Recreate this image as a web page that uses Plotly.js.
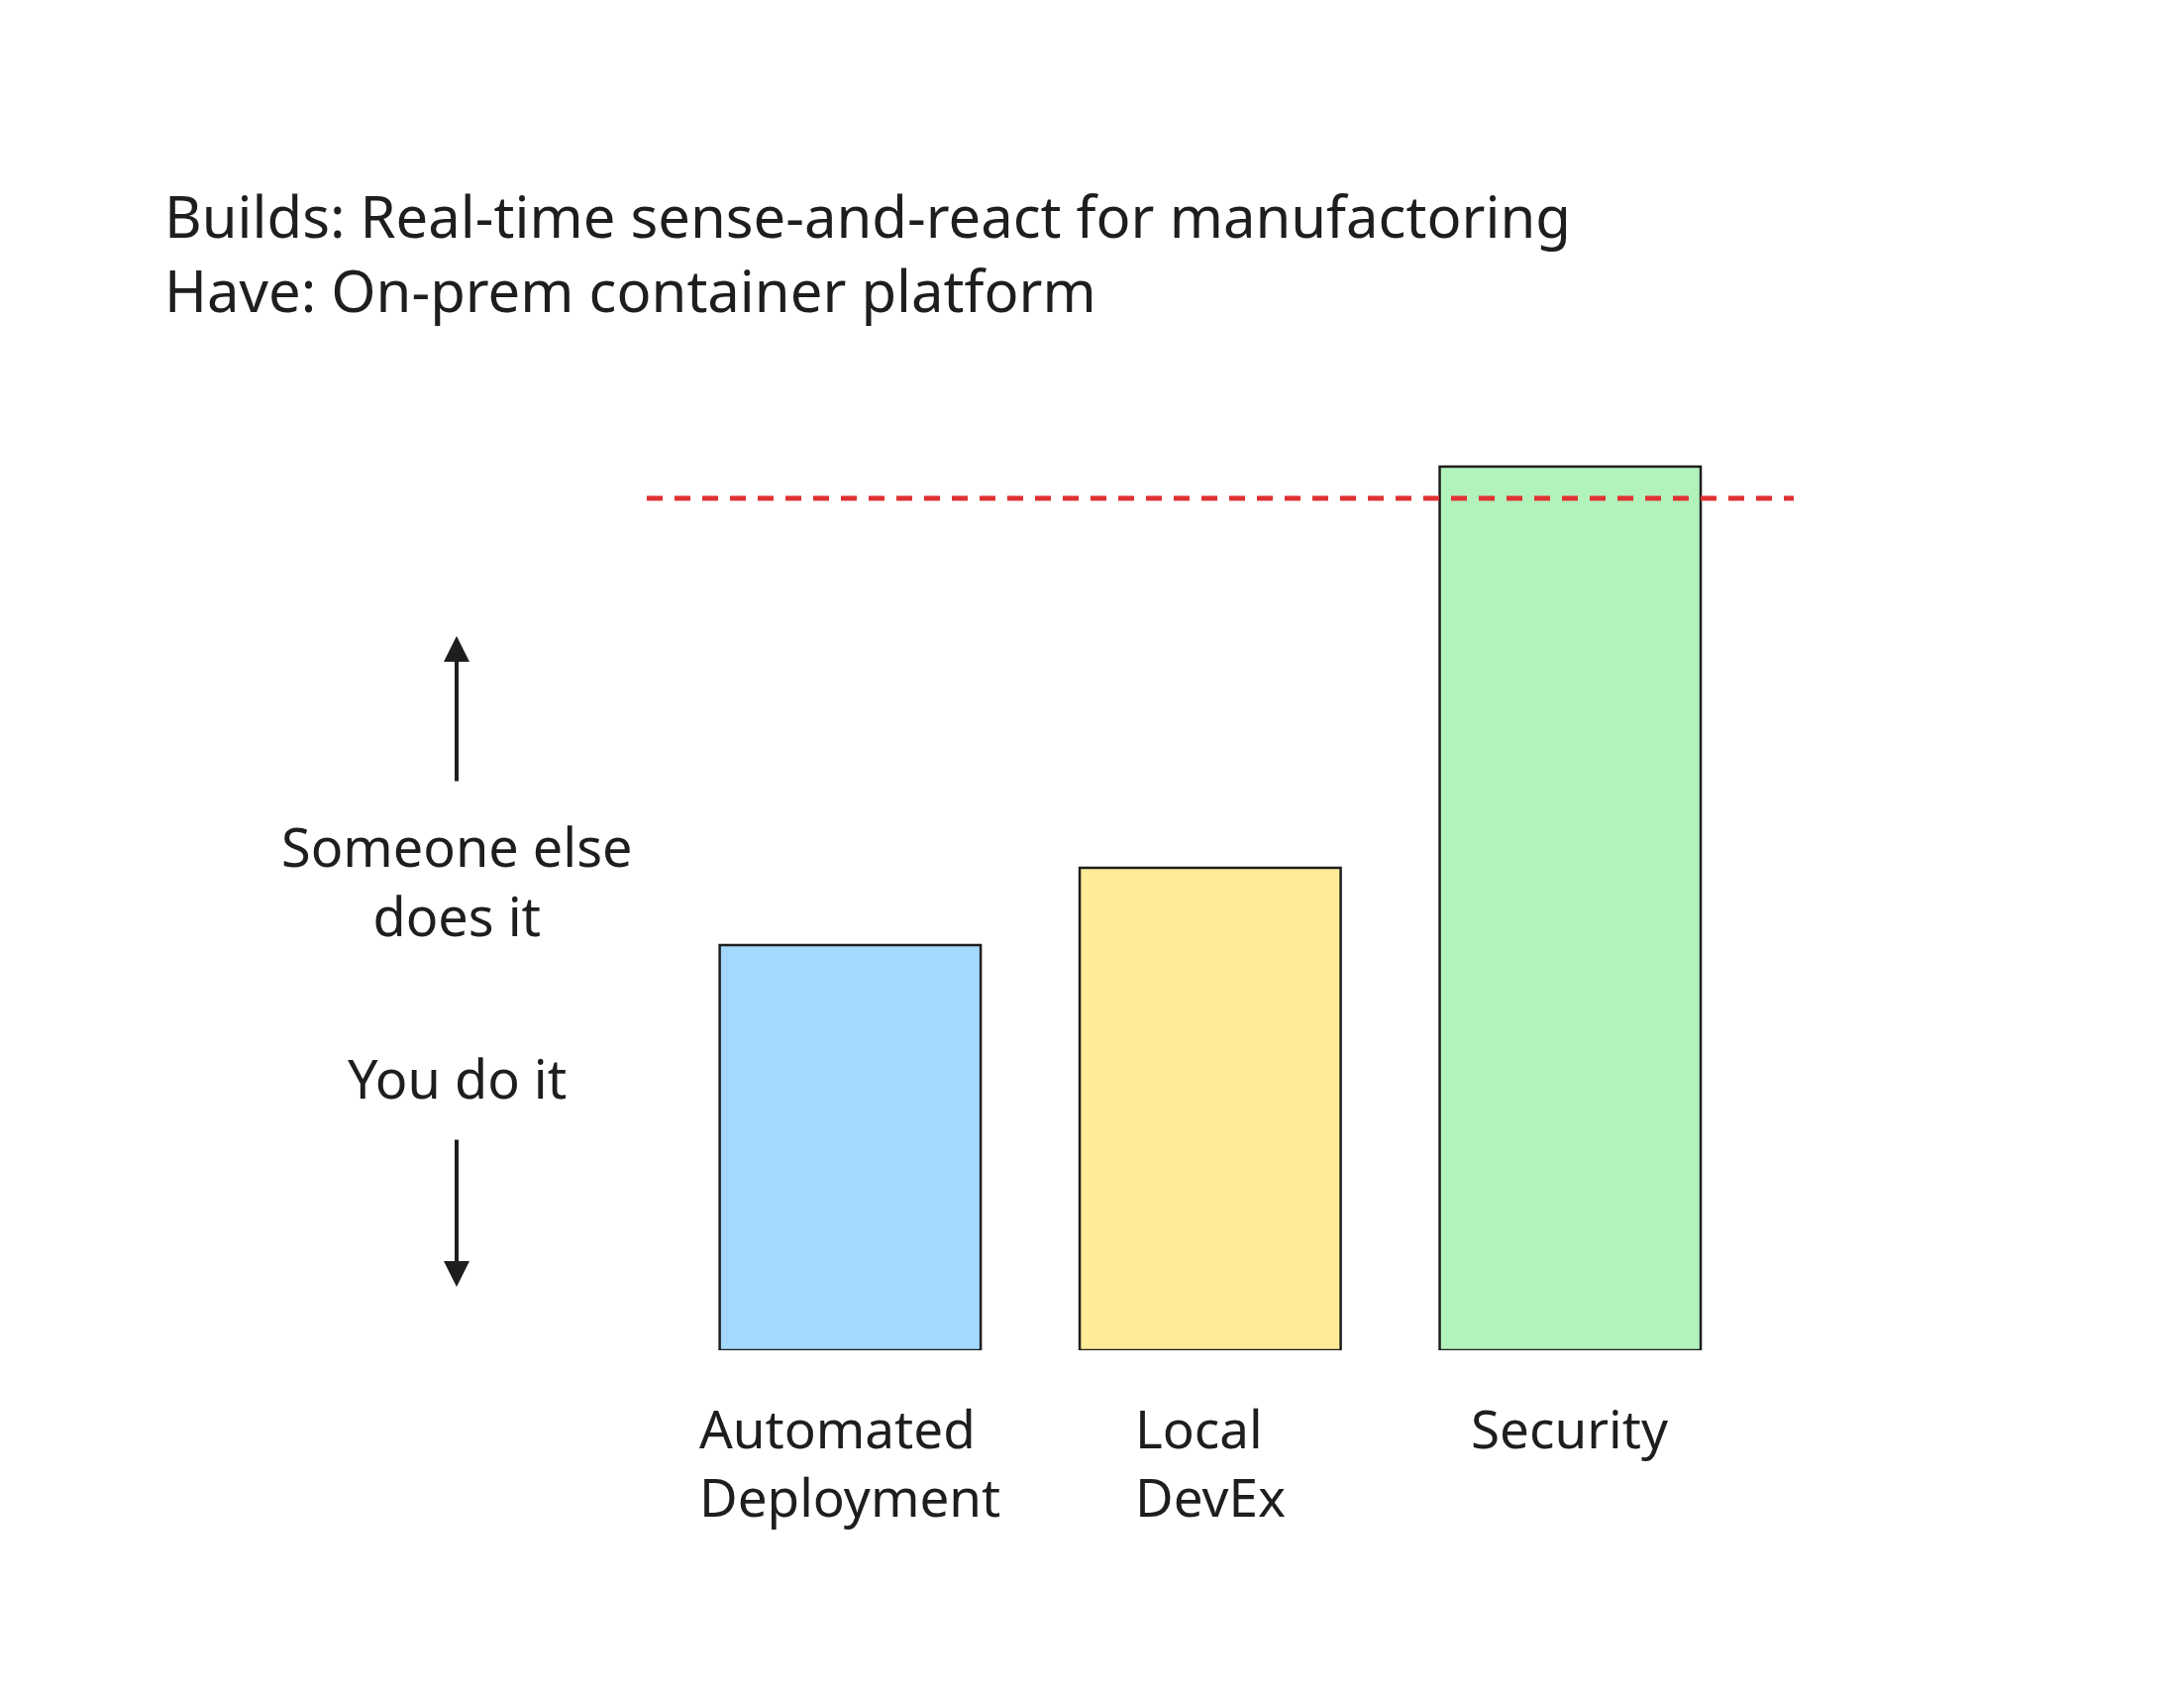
<!DOCTYPE html>
<html>
<head>
<meta charset="utf-8">
<script src="https://cdn.plot.ly/plotly-3.0.1.min.js"></script>
<style>html,body{margin:0;padding:0;background:#fff;}#chart{width:2205px;height:1712px;}</style>
</head>
<body>
<div id="chart"></div>
<script>
// ---- data ----
const categories = ["Automated Deployment", "Local DevEx", "Security"];
const categoryLabels = ["Automated<br>Deployment", "Local<br>DevEx", "Security"];
const values = [4.09, 4.87, 8.92];
const barColors = ["#a5d8ff", "#ffec99", "#b2f2bb"];
const threshold = 8.6;
const titleLines = ["Builds: Real-time sense-and-react for manufactoring", "Have: On-prem container platform"];
const upLabel = "Someone else<br>does it";
const downLabel = "You do it";

// ---- styles ----
const ink = "#1e1e1e";
const FONT = "Noto Sans, Lato, sans-serif";
const W = 2205, H = 1712;
const L = 653, R = 394, T = 400, B = 349;
const plotH = H - T - B;
const yMax = 9.63;
function py(pix) { return (H - B - pix) / plotH; }
function px(pix) { return (pix - L) / (W - L - R); }

const trace = {
  type: "bar",
  x: categories,
  y: values,
  width: 0.725,
  marker: { color: barColors, line: { color: ink, width: 2.5 } },
  hoverinfo: "x+y"
};

const annotations = categories.map((c, i) => ({
  xref: "x", yref: "paper", x: c, y: py(1403),
  text: categoryLabels[i], showarrow: false,
  xanchor: "center", yanchor: "top", align: "left",
  font: { family: FONT, size: 53, color: ink }
}));

annotations.push(
  { xref: "paper", yref: "paper", x: px(461), y: py(815), text: upLabel, showarrow: false,
    xanchor: "center", yanchor: "top", align: "center", font: { family: FONT, size: 54, color: ink } },
  { xref: "paper", yref: "paper", x: px(461), y: py(1088), text: downLabel, showarrow: false,
    xanchor: "center", yanchor: "middle", align: "center", font: { family: FONT, size: 54, color: ink } },
  { xref: "paper", yref: "paper", x: px(461), y: py(642), text: "", showarrow: true,
    ax: 0, ay: 148, arrowhead: 2, arrowsize: 1.3, arrowwidth: 4, arrowcolor: ink },
  { xref: "paper", yref: "paper", x: px(461), y: py(1299), text: "", showarrow: true,
    ax: 0, ay: -150, arrowhead: 2, arrowsize: 1.3, arrowwidth: 4, arrowcolor: ink }
);

const layout = {
  width: W, height: H,
  paper_bgcolor: "#ffffff", plot_bgcolor: "rgba(0,0,0,0)",
  margin: { l: L, r: R, t: T, b: B },
  showlegend: false,
  title: {
    text: titleLines.join("<br>"),
    xref: "container", yref: "container",
    x: 166 / W, xanchor: "left",
    y: 1 - 240 / H, yanchor: "top",
    font: { family: FONT, size: 58, color: ink }
  },
  xaxis: {
    type: "category", range: [-0.565, 2.621],
    showgrid: false, zeroline: false, showline: false,
    showticklabels: false, ticks: ""
  },
  yaxis: {
    range: [0, yMax], showgrid: false, zeroline: false,
    showline: false, showticklabels: false, ticks: ""
  },
  shapes: [{
    type: "line", xref: "paper", yref: "y",
    x0: 0, x1: 1, y0: threshold, y1: threshold,
    line: { color: "#e03131", width: 5, dash: "16px,12px" }
  }],
  annotations: annotations
};

Plotly.newPlot("chart", [trace], layout, { displayModeBar: false, staticPlot: true });
</script>
</body>
</html>
